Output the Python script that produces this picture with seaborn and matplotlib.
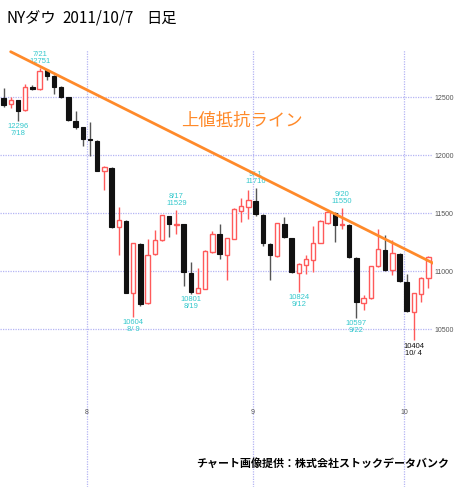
import numpy as np
import pandas as pd
import matplotlib
matplotlib.use("Agg")
import matplotlib.pyplot as plt
import seaborn as sns

dates = ["7/14","7/15","7/18","7/19","7/20","7/21","7/22","7/25","7/26","7/27","7/28","7/29",
         "8/1","8/2","8/3","8/4","8/5","8/8","8/9","8/10","8/11","8/12","8/15","8/16","8/17","8/18","8/19",
         "8/22","8/23","8/24","8/25","8/26","8/29","8/30","8/31",
         "9/1","9/2","9/6","9/7","9/8","9/9","9/12","9/13","9/14","9/15","9/16","9/19","9/20","9/21","9/22","9/23",
         "9/26","9/27","9/28","9/29","9/30","10/3","10/4","10/5","10/6"]
opens  = [12492,12440,12474,12388,12587,12572,12733,12680,12590,12500,12300,12240,
          12143,12124,11866,11890,11384,11434,10810,11236,10726,11149,11272,11475,11395,11405,10986,
          10815,10851,11167,11319,11138,11282,11520,11554,
          11606,11489,11233,11130,11411,11287,10989,11052,11100,11244,11416,11506,11397,11402,11115,10727,
          10770,11043,11187,11008,11152,10908,10650,10802,10946]
highs  = [12583,12505,12480,12615,12603,12751,12740,12690,12600,12505,12380,12245,
          12287,12130,11904,11895,11554,11440,11245,11240,11279,11358,11485,11480,11529,11410,11083,
          11025,11180,11348,11405,11290,11545,11632,11704,
          11716,11492,11240,11418,11472,11290,11070,11138,11388,11440,11520,11510,11550,11410,11120,10793,
          11046,11368,11310,11274,11155,10974,10812,10950,11130]
lows   = [12416,12411,12296,12385,12560,12560,12647,12528,12490,12297,12224,12080,
          11990,11863,11698,11376,11138,10809,10604,10697,10720,11140,11265,11296,11319,10873,10801,
          10810,10845,11160,11110,10922,11280,11425,11454,
          11480,11216,10928,11125,11285,10984,10824,10980,10994,11240,11410,11253,11368,11115,10597,10664,
          10765,11040,11005,10966,10905,10650,10404,10739,10860]
closes = [12437,12480,12385,12587,12572,12724,12681,12593,12501,12303,12240,12143,
          12132,11867,11896,11384,11445,10810,11240,10720,11143,11269,11483,11406,11410,10991,10818,
          10855,11177,11321,11150,11285,11539,11560,11614,
          11494,11240,11139,11415,11296,10992,11061,11106,11247,11433,11509,11401,11409,11125,10734,10771,
          11044,11191,11011,11154,10913,10655,10809,10940,11123]

# resistance line end points (trading-day index, price)
res_x = [0.97, 59.9]
res_y = [12893, 11063]

ytick_vals = [10500, 11000, 11500, 12000, 12500]
month_labels = ["8", "9", "10"]
month_first_idx = [12, 35, 56]

# annotations
ann_idx = [5, 2, 18, 24, 26, 35, 41, 47, 49, 57]
ann_txt = ["7/21\n12751", "12296\n7/18", "10604\n8/ 9", "8/17\n11529", "10801\n8/19",
           "9/ 1\n11716", "10824\n9/12", "9/20\n11550", "10597\n9/22", "10404\n10/ 4"]
ann_above = [True, False, False, True, False, True, False, True, False, False]

df = pd.DataFrame({"date": dates, "open": opens, "high": highs, "low": lows, "close": closes})
df["i"] = np.arange(len(df))
df["up"] = df["close"] >= df["open"]

sns.set_theme(style="white")
plt.rcParams["font.family"] = ["Noto Sans CJK JP", "DejaVu Sans"]

W, H = 458, 487
fig = plt.figure(figsize=(W / 100, H / 100), dpi=100)
ax = fig.add_axes([0, 0, 433 / W, 437 / H])
ax.set_facecolor("white")
for s in ax.spines.values():
    s.set_visible(False)

grid_c = "#b4b4f4"
for v in ytick_vals:
    ax.axhline(v, color=grid_c, lw=0.9, ls=(0, (1, 1)), zorder=0)
for m in month_first_idx:
    ax.axvline(m - 0.4, color=grid_c, lw=0.9, ls=(0, (1, 1)), zorder=0)

red = "#ff5a5a"
blk = "#111111"
up = df[df["up"]]
dn = df[~df["up"]]
ax.vlines(up["i"], up["low"], up["high"], color=red, lw=1.0, zorder=2)
ax.vlines(dn["i"], dn["low"], dn["high"], color="#555555", lw=1.0, zorder=2)
bw = 0.62
ax.bar(up["i"], (up["close"] - up["open"]).clip(lower=8), bottom=up["open"], width=bw,
       facecolor="white", edgecolor=red, linewidth=1.0, zorder=3)
ax.bar(dn["i"], (dn["open"] - dn["close"]).clip(lower=8), bottom=dn["close"], width=bw,
       facecolor=blk, edgecolor=blk, linewidth=0.8, zorder=3)

sns.lineplot(x=res_x, y=res_y, ax=ax, color="#ff8a2a", lw=2.0, zorder=4)
ax.text(24.6, 12300, "上値抵抗ライン", color="#ff8a2a", fontsize=12.5, ha="left", va="center")

ax.set_xlim(-0.51, 59.65)
ax.set_ylim(9140.5, 12907.8)

small = ["Liberation Sans", "DejaVu Sans"]
fs = 5.0
ax.yaxis.tick_right()
ax.set_yticks(ytick_vals)
ax.set_yticklabels([str(v) for v in ytick_vals], fontsize=fs, color="#555555", family=small)
ax.tick_params(axis="y", length=0, pad=1.0)
ax.set_xticks([])

for m, lab in zip(month_first_idx, month_labels):
    ax.text(m - 0.4, 9787, lab, fontsize=fs, color="#555555", ha="center", va="center", family=small)

cyan = "#33c8cc"
afs = 5.5
for i, t, a in zip(ann_idx, ann_txt, ann_above):
    c = blk if i == 57 else cyan
    if a:
        ax.annotate(t, xy=(i, highs[i]), xytext=(0, 2.0), textcoords="offset points",
                    ha="center", va="bottom", fontsize=afs, color=c, family=small, linespacing=1.0)
    else:
        ax.annotate(t, xy=(i, lows[i]), xytext=(0, -1.5), textcoords="offset points",
                    ha="center", va="top", fontsize=afs, color=c, family=small, linespacing=1.0)

fig.text(7 / W, 1 - 18 / H, "NYダウ", fontsize=11, ha="left", va="center", color="black")
fig.text(62 / W, 1 - 18 / H, "2011/10/7", fontsize=11, ha="left", va="center", color="black")
fig.text(146 / W, 1 - 18 / H, "日足", fontsize=11, ha="left", va="center", color="black")

fig.text(449 / W, 1 - 463 / H, "チャート画像提供：株式会社ストックデータバンク", fontsize=7.9,
         fontweight="bold", ha="right", va="center", color="black")

fig.savefig("out.png", dpi=100)
